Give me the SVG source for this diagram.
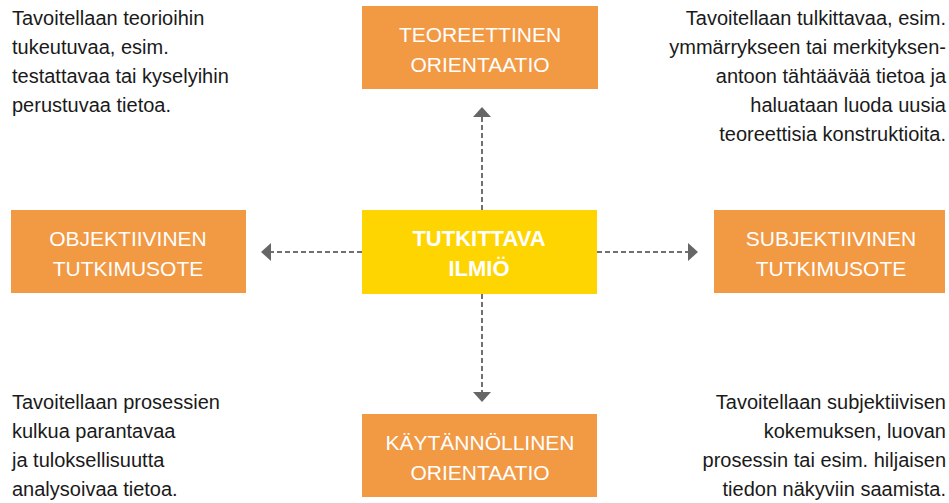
<svg xmlns="http://www.w3.org/2000/svg" width="949" height="503" viewBox="0 0 949 503">
<defs>
<style>
.box{fill:#F29944;}
.core{fill:#FED500;}
.bt{font-family:"Liberation Sans",Arial,sans-serif;font-size:21px;fill:#fff;text-anchor:middle;}
.ct{font-family:"Liberation Sans",Arial,sans-serif;font-size:22px;font-weight:bold;fill:#fff;text-anchor:middle;}
.tx{font-family:"Liberation Sans",Arial,sans-serif;font-size:20px;fill:#1a1a1a;}
.r{text-anchor:end;}
.ln{stroke:#707070;stroke-width:2;stroke-dasharray:5 3;fill:none;}
.ah{fill:#666;}
</style>
</defs>
<rect width="949" height="503" fill="#fff"/>
<g id="connectors">
<line class="ln" x1="482" y1="210" x2="482" y2="117"/>
<polygon class="ah" points="482,107 473,117 491,117"/>
<line class="ln" x1="482" y1="294" x2="482" y2="392"/>
<polygon class="ah" points="482,402 473,392 491,392"/>
<line class="ln" x1="362" y1="252" x2="271" y2="252"/>
<polygon class="ah" points="261,252 271,243 271,261"/>
<line class="ln" x1="597" y1="252" x2="688" y2="252"/>
<polygon class="ah" points="698,252 688,243 688,261"/>
</g>
<g id="teoreettinen">
<rect class="box" x="362" y="6" width="236" height="83"/>
<text class="bt" x="480" y="42">TEOREETTINEN</text>
<text class="bt" x="480" y="72">ORIENTAATIO</text>
</g>
<g id="tutkittava">
<rect class="core" x="362" y="210" width="235" height="84"/>
<text class="ct" x="479" y="246">TUTKITTAVA</text>
<text class="ct" x="479" y="276">ILMIÖ</text>
</g>
<g id="objektiivinen">
<rect class="box" x="11" y="210" width="235" height="83"/>
<text class="bt" x="128" y="246">OBJEKTIIVINEN</text>
<text class="bt" x="128" y="276">TUTKIMUSOTE</text>
</g>
<g id="subjektiivinen">
<rect class="box" x="714" y="210" width="231" height="83"/>
<text class="bt" x="831" y="246">SUBJEKTIIVINEN</text>
<text class="bt" x="831" y="276">TUTKIMUSOTE</text>
</g>
<g id="kaytannollinen">
<rect class="box" x="362" y="414" width="235" height="83"/>
<text class="bt" x="480" y="450">KÄYTÄNNÖLLINEN</text>
<text class="bt" x="480" y="480">ORIENTAATIO</text>
</g>
<g id="text-top-left">
<text class="tx" x="12" y="25">Tavoitellaan teorioihin</text>
<text class="tx" x="12" y="54">tukeutuvaa, esim.</text>
<text class="tx" x="12" y="83">testattavaa tai kyselyihin</text>
<text class="tx" x="12" y="112">perustuvaa tietoa.</text>
</g>
<g id="text-top-right">
<text class="tx r" x="946" y="25">Tavoitellaan tulkittavaa, esim.</text>
<text class="tx r" x="946" y="54">ymmärrykseen tai merkityksen-</text>
<text class="tx r" x="946" y="83">antoon tähtäävää tietoa ja</text>
<text class="tx r" x="946" y="112">haluataan luoda uusia</text>
<text class="tx r" x="946" y="141">teoreettisia konstruktioita.</text>
</g>
<g id="text-bottom-left">
<text class="tx" x="12" y="409">Tavoitellaan prosessien</text>
<text class="tx" x="12" y="438">kulkua parantavaa</text>
<text class="tx" x="12" y="467">ja tuloksellisuutta</text>
<text class="tx" x="12" y="496">analysoivaa tietoa.</text>
</g>
<g id="text-bottom-right">
<text class="tx r" x="946" y="409">Tavoitellaan subjektiivisen</text>
<text class="tx r" x="946" y="438">kokemuksen, luovan</text>
<text class="tx r" x="946" y="467">prosessin tai esim. hiljaisen</text>
<text class="tx r" x="946" y="496">tiedon näkyviin saamista.</text>
</g>
</svg>
